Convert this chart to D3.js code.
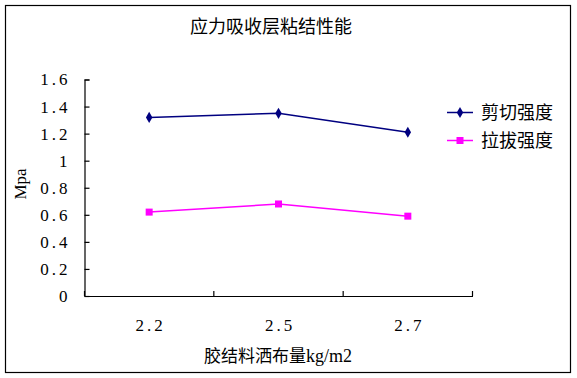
<!DOCTYPE html>
<html><head><meta charset="utf-8">
<script src="https://cdn.jsdelivr.net/npm/d3@7"></script>
<style>body{margin:0;background:#fff}svg{display:block}</style>
</head><body>
<script>
const categories = ["2.2", "2.5", "2.7"];
const shearValues = [1.32, 1.35, 1.21];
const pullValues = [0.62, 0.68, 0.59];
const yTicks = [0, 0.2, 0.4, 0.6, 0.8, 1, 1.2, 1.4, 1.6];
const seriesNames = ["剪切强度", "拉拔强度"];
const title = "应力吸收层粘结性能";
const xTitleCjk = "胶结料洒布量";
const xTitleUnit = "kg/m2";
const yTitle = "Mpa";

const W = 577, H = 378;
const svg = d3.select("body").append("svg").attr("width", W).attr("height", H);
svg.append("rect").attr("x", 5.5).attr("y", 5.5).attr("width", 565).attr("height", 367)
  .attr("fill", "#fff").attr("stroke", "#000").attr("stroke-width", 1.2);

const pLeft = 84.5, pRight = 472.5, pTop = 79.5, pBottom = 296;
const x = d3.scaleBand().domain(categories).range([pLeft, pRight]);
const y = d3.scaleLinear().domain([0, 1.6]).range([pBottom, pTop]);
const cx = d => x(d) + x.bandwidth() / 2;

const numFont = "'Liberation Serif', 'DejaVu Serif', serif";
const cjkFont = "'Noto Sans CJK SC', sans-serif";

// y axis
const yAxis = svg.append("g").attr("transform", `translate(${pLeft},0)`)
  .call(d3.axisLeft(y).tickValues(yTicks).tickSizeInner(-5).tickSizeOuter(-5).tickPadding(14)
    .tickFormat(d => d3.format("")(d)));
yAxis.attr("font-family", null).attr("font-size", null);
yAxis.selectAll("path,line").attr("stroke", "#000").attr("stroke-width", 1.2);
yAxis.selectAll("text").style("font-family", numFont).style("font-size", "17px").style("letter-spacing", "3px")
  .attr("fill", "#000");

// x axis
const xAxis = svg.append("g").attr("transform", `translate(0,${pBottom})`)
  .call(d3.axisBottom(x).tickSize(0).tickPadding(23));
xAxis.attr("font-family", null).attr("font-size", null);
xAxis.select("path").attr("stroke", "#000").attr("stroke-width", 1.2);
xAxis.selectAll("text").style("font-family", numFont).style("font-size", "17px").style("letter-spacing", "3px")
  .attr("dx", "1.5px").attr("fill", "#000");
// boundary ticks (inward)
const bounds = [pLeft].concat(categories.map(c => x(c) + x.bandwidth()));
svg.append("g").selectAll("line").data(bounds).join("line")
  .attr("x1", d => d).attr("x2", d => d).attr("y1", pBottom).attr("y2", pBottom - 5)
  .attr("stroke", "#000").attr("stroke-width", 1.2);

// lines
const line = d3.line().x((d, i) => cx(categories[i])).y(d => y(d));
svg.append("path").datum(shearValues).attr("d", line).attr("fill", "none")
  .attr("stroke", "#000080").attr("stroke-width", 1.5);
svg.append("path").datum(pullValues).attr("d", line).attr("fill", "none")
  .attr("stroke", "#FF00FF").attr("stroke-width", 1.5);

const diamond = d3.symbol().type(d3.symbolDiamond).size(36);
svg.append("g").selectAll("path").data(shearValues).join("path")
  .attr("d", diamond).attr("transform", (d, i) => `translate(${cx(categories[i])},${y(d)})`)
  .attr("fill", "#000080");
svg.append("g").selectAll("rect").data(pullValues).join("rect")
  .attr("x", (d, i) => cx(categories[i]) - 3.5).attr("y", d => y(d) - 3.5)
  .attr("width", 7).attr("height", 7).attr("fill", "#FF00FF");

// legend
const lg = svg.append("g");
const legendY = [112.5, 140.5];
lg.append("line").attr("x1", 447).attr("x2", 473).attr("y1", legendY[0]).attr("y2", legendY[0])
  .attr("stroke", "#000080").attr("stroke-width", 1.5);
lg.append("path").attr("d", diamond).attr("transform", `translate(460,${legendY[0]})`).attr("fill", "#000080");
lg.append("line").attr("x1", 447).attr("x2", 473).attr("y1", legendY[1]).attr("y2", legendY[1])
  .attr("stroke", "#FF00FF").attr("stroke-width", 1.5);
lg.append("rect").attr("x", 456.5).attr("y", legendY[1] - 3.5).attr("width", 7).attr("height", 7).attr("fill", "#FF00FF");
lg.selectAll("text").data(seriesNames).join("text")
  .attr("x", 481).attr("y", (d, i) => legendY[i]).attr("dy", "0.35em")
  .attr("font-family", cjkFont).attr("font-size", 18).attr("fill", "#000").text(d => d);

// titles
svg.append("text").attr("x", 271).attr("y", 27).attr("dy", "0.35em").attr("text-anchor", "middle")
  .attr("font-family", cjkFont).attr("font-size", 18).attr("fill", "#000").text(title);
const xt = svg.append("text").attr("x", 278).attr("y", 356).attr("dy", "0.35em").attr("text-anchor", "middle")
  .attr("fill", "#000");
xt.append("tspan").attr("font-family", cjkFont).attr("font-size", 17).text(xTitleCjk);
xt.append("tspan").style("font-family", numFont).style("font-size", "18px").text(xTitleUnit);
svg.append("text").attr("transform", "translate(20,184) rotate(-90)").attr("dy", "0.35em")
  .attr("text-anchor", "middle").style("font-family", numFont).style("font-size", "17px").attr("fill", "#000").text(yTitle);
</script>
</body></html>
